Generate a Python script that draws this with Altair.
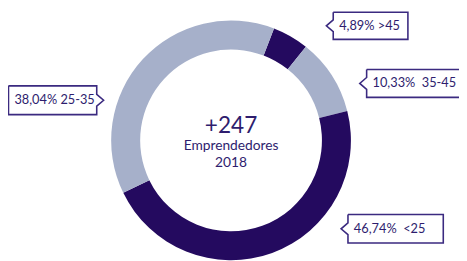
import math
import altair as alt
import pandas as pd

# ---- data ----
categories = [">45", "35-45", "<25", "25-35"]
shares = [4.89, 10.33, 46.74, 38.04]
share_labels = ["4,89% >45", "10,33%\u00a0 35-45", "46,74%\u00a0 <25", "38,04% 25-35"]
center_lines = ["+247", "Emprendedores", "2018"]

# ---- style / layout ----
DARK = "#240a5f"
LIGHT = "#a6b0ca"
slice_colors = [DARK, LIGHT, DARK, LIGHT]
TEXT = "#2e1d6e"
BOX = "#3b2a80"
W, H = 459, 253
OFF = 8  # page margin
CX, CY = 235 - OFF, 140.5 - OFF
R_OUT, R_IN = 122, 92.5
START = math.radians(21)

# callout boxes (left, top, right, bottom, notch side), screen pixels
boxes = {
    ">45": (339, 10, 415, 37.7, "left"),
    "35-45": (373, 68.3, 472, 96.7, "left"),
    "<25": (354, 216, 451, 245, "left"),
    "25-35": (8.5, 85, 98.3, 114.3, "right"),
}
NOTCH_D, NOTCH_H = 7, 6

arc_df = pd.DataFrame({"cat": categories, "value": shares, "idx": range(len(categories))})

poly_rows = []
text_rows = []
for cat, lab in zip(categories, share_labels):
    l, t, r, b, side = boxes[cat]
    l, t, r, b = l - OFF, t - OFF, r - OFF, b - OFF
    my = (t + b) / 2
    if side == "left":
        pts = [(l, t), (r, t), (r, b), (l, b), (l, my + NOTCH_H), (l - NOTCH_D, my), (l, my - NOTCH_H), (l, t)]
    else:
        pts = [(l, t), (r, t), (r, my - NOTCH_H), (r + NOTCH_D, my), (r, my + NOTCH_H), (r, b), (l, b), (l, t)]
    for i, (px, py) in enumerate(pts):
        poly_rows.append({"cat": cat, "o": i, "x": px, "y": py})
    text_rows.append({"x": l + 6, "y": my, "label": lab})

poly_df = pd.DataFrame(poly_rows)
text_df = pd.DataFrame(text_rows)

center_df = pd.DataFrame({
    "x": [CX, CX, CX],
    "y": [133 - OFF, 150.5 - OFF, 167.3 - OFF],
    "label": center_lines,
    "size": [23, 14, 14],
})

xs = alt.Scale(domain=[0, W], zero=False, nice=False)
ys = alt.Scale(domain=[0, H], zero=False, nice=False, reverse=True)

arc = alt.Chart(arc_df).mark_arc(outerRadius=R_OUT, innerRadius=R_IN, strokeWidth=0).encode(
    theta=alt.Theta("value:Q", stack=True, scale=alt.Scale(range=[START, START + 2 * math.pi])),
    color=alt.Color("cat:N", scale=alt.Scale(domain=categories, range=slice_colors), legend=None),
    order=alt.Order("idx:Q"),
    x=alt.value(CX),
    y=alt.value(CY),
)

boxes_layer = alt.Chart(poly_df).mark_line(color=BOX, strokeWidth=1.6, strokeJoin="miter").encode(
    x=alt.X("x:Q", scale=xs, axis=None),
    y=alt.Y("y:Q", scale=ys, axis=None),
    detail="cat:N",
    order="o:Q",
)

labels = alt.Chart(text_df).mark_text(
    align="left", baseline="middle", font="Lato", fontSize=13, color=TEXT
).encode(
    x=alt.X("x:Q", scale=xs, axis=None),
    y=alt.Y("y:Q", scale=ys, axis=None),
    text="label:N",
)

center = alt.Chart(center_df).mark_text(
    align="center", baseline="alphabetic", font="Lato", color=TEXT
).encode(
    x=alt.X("x:Q", scale=xs, axis=None),
    y=alt.Y("y:Q", scale=ys, axis=None),
    text="label:N",
    size=alt.Size("size:Q", scale=None, legend=None),
)

chart = alt.layer(arc, boxes_layer, labels, center).properties(
    width=W, height=H, padding=0, autosize=alt.AutoSizeParams(type="none"), background="white"
).configure_view(stroke=None)

chart.save("out.html", embed_options={"renderer": "svg", "actions": False})
